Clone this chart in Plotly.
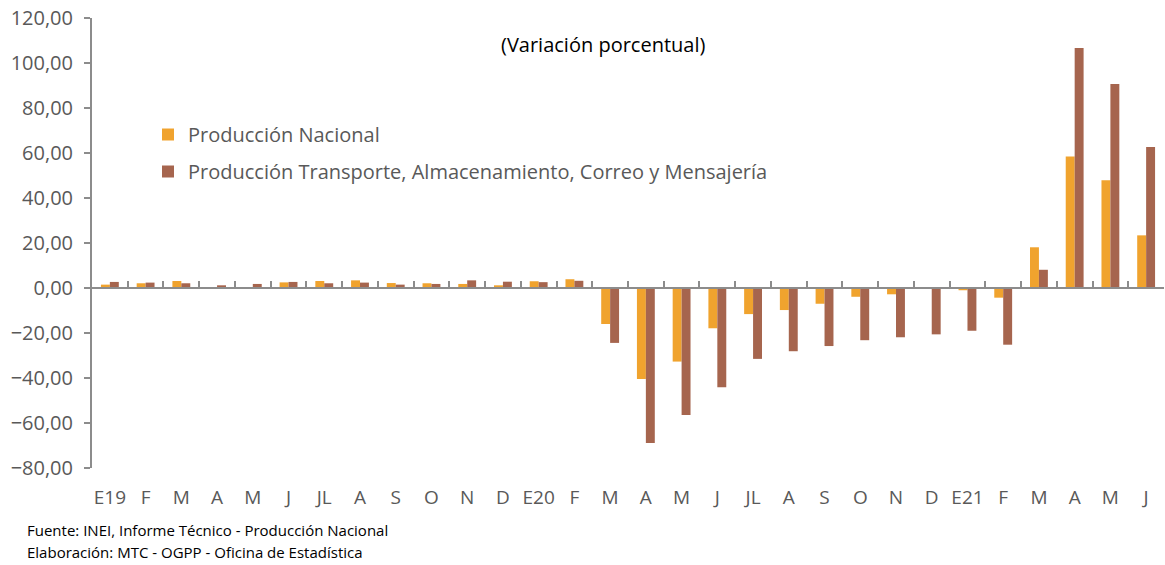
import plotly.graph_objects as go

labels = ["E19", "F", "M", "A", "M", "J", "JL", "A", "S", "O", "N", "D",
          "E20", "F", "M", "A", "M", "J", "JL", "A", "S", "O", "N", "D",
          "E21", "F", "M", "A", "M", "J"]
prod_nacional = [1.5, 2.1, 3.1, 0.1, 0.3, 2.5, 3.1, 3.4, 2.2, 2.1, 1.8, 1.2,
                 3.0, 3.9, -16.0, -40.4, -32.7, -17.9, -11.6, -9.8, -7.0, -3.9, -2.8, -0.3,
                 -1.0, -4.3, 18.1, 58.5, 47.9, 23.4]
prod_transporte = [2.7, 2.4, 2.1, 1.2, 1.8, 2.7, 2.1, 2.4, 1.5, 1.8, 3.4, 2.8,
                   2.6, 3.2, -24.4, -68.9, -56.4, -44.1, -31.5, -28.1, -25.8, -23.2, -21.9, -20.6,
                   -19.0, -25.2, 8.1, 106.7, 90.7, 62.7]
series_names = ["Producción Nacional",
                "Producción Transporte, Almacenamiento, Correo y Mensajería"]
colors = ["#F0A32E", "#A6654E"]
y_min, y_max = -80, 120

FONT = "Open Sans"
GRAY = "#595959"
AXIS = "#8C8C8C"

# page body margin is removed by post_script, so figure pixels = screen pixels
W, H = 1165, 565
PL, PR, PT, PB = 92, 1164, 18, 468
ML, MR, MT, MB = PL, W - PR, PT, H - PB
pw, ph = PR - PL, PB - PT
def px(sx): return (sx - PL) / pw
def py(sy): return 1 - (sy - PT) / ph

xs = list(range(len(labels)))
fig = go.Figure()
for i, (name, vals) in enumerate(zip(series_names, [prod_nacional, prod_transporte])):
    fig.add_trace(go.Bar(x=xs, y=vals, name=name, marker_color=colors[i],
                         marker_line_width=0, legendgroup=f"g{i}"))
# invisible trace to hold the zero-line axis
fig.add_trace(go.Scatter(x=[xs[0]], y=[None], xaxis="x2", showlegend=False,
                         hoverinfo="skip"))

zero_pos = (0 - y_min) / (y_max - y_min)
boundaries = [i - 0.5 for i in range(len(labels) + 1)]

fig.update_layout(
    width=W, height=H,
    margin=dict(l=ML, r=MR, t=MT, b=MB, autoexpand=False),
    paper_bgcolor="white", plot_bgcolor="white",
    separators=",.",
    barmode="group", bargap=0.5, bargroupgap=0.0,
    font=dict(family=FONT, color=GRAY, size=19),
    showlegend=True,
    legend=dict(x=px(148), y=py(115), xanchor="left", yanchor="top",
                bgcolor="rgba(0,0,0,0)", font=dict(size=20, color=GRAY),
                tracegroupgap=8, itemwidth=30),
    xaxis=dict(range=[-0.5, len(labels) - 0.5], tickvals=xs, ticktext=labels,
               showline=False, showgrid=False, zeroline=False, ticks="",
               automargin=False, ticklabelstandoff=16, ticklabeloverflow="allow",
               tickfont=dict(size=19, color=GRAY)),
    xaxis2=dict(range=[-0.5, len(labels) - 0.5], overlaying="x", anchor="free",
                position=zero_pos, side="bottom", showline=True, linecolor=AXIS,
                linewidth=2, ticks="inside", ticklen=6, tickwidth=2, tickcolor=AXIS,
                tickvals=boundaries, showticklabels=False, showgrid=False,
                zeroline=False, automargin=False),
    yaxis=dict(range=[y_min, y_max], dtick=20, tickformat=".2f", showline=True,
               linecolor=AXIS, linewidth=2, ticks="outside", ticklen=6, tickwidth=2,
               tickcolor=AXIS, showgrid=False, zeroline=False, ticklabelstandoff=7,
               automargin=False, ticklabeloverflow="allow",
               tickfont=dict(size=20, color=GRAY)),
)
fig.add_annotation(text="(Variación porcentual)", x=px(603), y=py(44), xref="paper",
                   yref="paper", xanchor="center", yanchor="middle", showarrow=False,
                   font=dict(size=20, color="#000000"))
fig.add_annotation(text="Fuente: INEI, Informe Técnico - Producción Nacional",
                   x=px(25), y=py(530), xref="paper", yref="paper", xanchor="left",
                   yanchor="middle", showarrow=False,
                   font=dict(size=15, color="#000000"))
fig.add_annotation(text="Elaboración: MTC - OGPP - Oficina de Estadística",
                   x=px(25), y=py(552), xref="paper", yref="paper", xanchor="left",
                   yanchor="middle", showarrow=False,
                   font=dict(size=15, color="#000000"))

fig.write_html("out.html", config={"displayModeBar": False},
               post_script="document.body.style.margin='0';document.body.style.overflow='hidden';")
